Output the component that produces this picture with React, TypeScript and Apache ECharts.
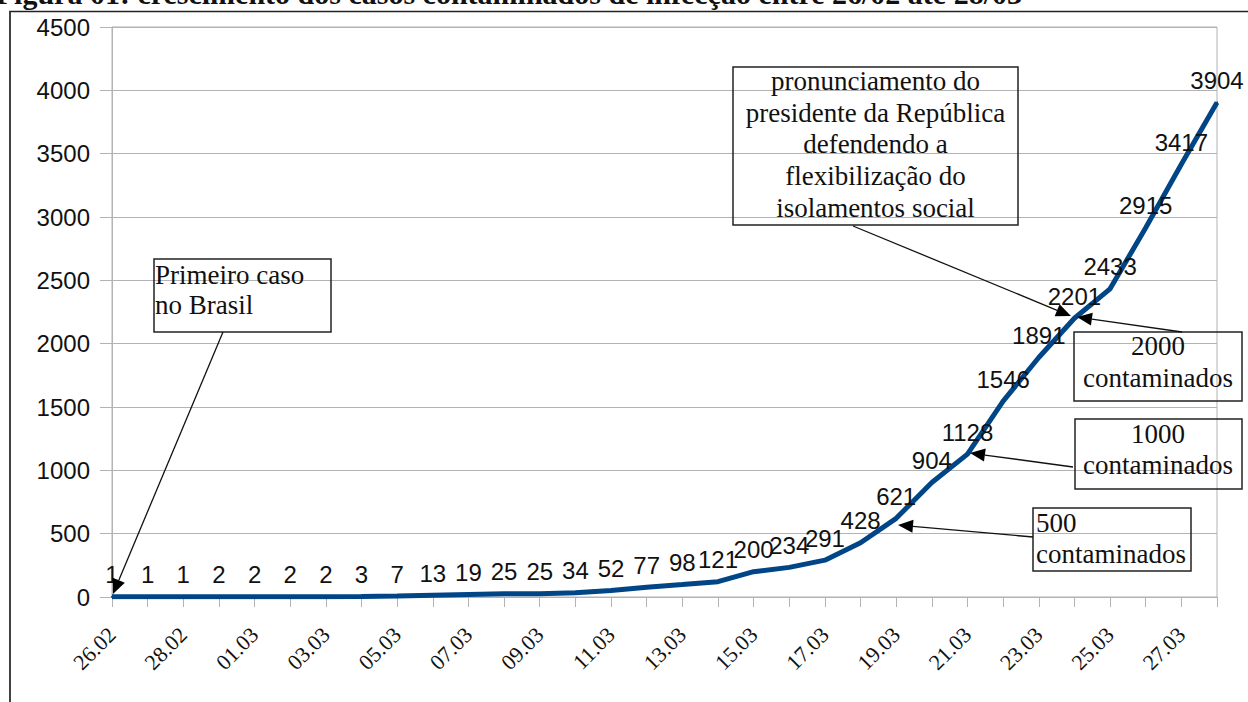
import { useEffect, useRef } from "react";
import * as echarts from "echarts";

const titleText =
  "Figura 01: crescimento dos casos contaminados de infecção entre 26/02 até 28/03";

const dates = [
  "26.02", "27.02", "28.02", "29.02",
  "01.03", "02.03", "03.03", "04.03", "05.03", "06.03", "07.03", "08.03",
  "09.03", "10.03", "11.03", "12.03", "13.03", "14.03", "15.03", "16.03",
  "17.03", "18.03", "19.03", "20.03", "21.03", "22.03", "23.03", "24.03",
  "25.03", "26.03", "27.03", "28.03",
];

const cases = [
  1, 1, 1, 2, 2, 2, 2, 3, 7, 13, 19, 25, 25, 34, 52, 77, 98, 121, 200, 234,
  291, 428, 621, 904, 1128, 1546, 1891, 2201, 2433, 2915, 3417, 3904,
];

const yMin = 0;
const yMax = 4500;
const yStep = 500;

type Note = {
  lines: string[];
  box: [number, number, number, number];
  align: "left" | "center";
  textX: number;
  mids: number[];
  from: [number, number];
  to: [number, number];
};

const notes: Note[] = [
  {
    lines: ["Primeiro caso", "no Brasil"],
    box: [154, 259, 177, 73],
    align: "left",
    textX: 155,
    mids: [275, 305],
    from: [223, 332],
    to: [113, 594],
  },
  {
    lines: [
      "pronunciamento do",
      "presidente da República",
      "defendendo a",
      "flexibilização do",
      "isolamentos social",
    ],
    box: [733, 67, 285, 158],
    align: "center",
    textX: 875.5,
    mids: [81, 113, 144, 176, 208],
    from: [853, 226],
    to: [1071, 316],
  },
  {
    lines: ["2000", "contaminados"],
    box: [1074, 332, 168, 69],
    align: "center",
    textX: 1158,
    mids: [346, 378],
    from: [1182, 332],
    to: [1077, 317],
  },
  {
    lines: ["1000", "contaminados"],
    box: [1075, 419, 167, 70],
    align: "center",
    textX: 1158,
    mids: [434, 465],
    from: [1073, 467],
    to: [970, 453],
  },
  {
    lines: ["500", "contaminados"],
    box: [1033, 508, 158, 63],
    align: "left",
    textX: 1036,
    mids: [523, 554],
    from: [1033, 537],
    to: [898, 525],
  },
];

function arrow(from: [number, number], to: [number, number]) {
  const dx = to[0] - from[0];
  const dy = to[1] - from[1];
  const len = Math.sqrt(dx * dx + dy * dy);
  const ux = dx / len;
  const uy = dy / len;
  const hl = 15;
  const hw = 6.5;
  const bx = to[0] - ux * hl;
  const by = to[1] - uy * hl;
  return [
    {
      type: "line",
      z: 100,
      shape: { x1: from[0], y1: from[1], x2: bx, y2: by },
      style: { stroke: "#111", lineWidth: 1.3 },
    },
    {
      type: "polygon",
      z: 100,
      shape: {
        points: [
          [to[0], to[1]],
          [bx - uy * hw, by + ux * hw],
          [bx + uy * hw, by - ux * hw],
        ],
      },
      style: { fill: "#000", stroke: "none" },
    },
  ];
}

function buildGraphic() {
  const els: any[] = [];
  els.push({
    type: "rect",
    z: 100,
    shape: { x: 10, y: 11.5, width: 1300, height: 800 },
    style: { fill: "none", stroke: "#222", lineWidth: 1.7 },
  });
  els.push({
    type: "text",
    z: 100,
    x: 1022,
    y: -7,
    style: {
      text: titleText,
      font: "bold 30px 'Liberation Serif'",
      fontFamily: "Liberation Serif",
      fontWeight: "bold",
      fontSize: 30,
      fill: "#111",
      align: "right",
      textAlign: "right",
      verticalAlign: "middle",
      textVerticalAlign: "middle",
    },
  });
  notes.forEach((n) => {
    els.push({
      type: "rect",
      z: 100,
      shape: { x: n.box[0], y: n.box[1], width: n.box[2], height: n.box[3] },
      style: { fill: "none", stroke: "#222", lineWidth: 1.5 },
    });
    n.lines.forEach((line, i) => {
      els.push({
        type: "text",
        z: 100,
        x: n.textX,
        y: n.mids[i],
        style: {
          text: line,
          font: "27px 'Liberation Serif'",
          fontFamily: "Liberation Serif",
          fontSize: 27,
          fill: "#111",
          align: n.align,
          textAlign: n.align,
          verticalAlign: "middle",
          textVerticalAlign: "middle",
        },
      });
    });
    arrow(n.from, n.to).forEach((e) => els.push(e));
  });
  return els;
}

export default function App() {
  const ref = useRef<HTMLDivElement>(null);
  useEffect(() => {
    if (!ref.current) return;
    const chart = echarts.init(ref.current, null, {
      renderer: "svg",
      width: 1248,
      height: 702,
    });
    chart.setOption({
      animation: false,
      backgroundColor: "#ffffff",
      grid: {
        left: 112,
        right: 31,
        top: 27,
        bottom: 105,
        show: true,
        borderColor: "#b3b3b3",
        borderWidth: 1,
        backgroundColor: "transparent",
      },
      xAxis: {
        type: "category",
        data: dates,
        boundaryGap: false,
        axisLine: { show: true, lineStyle: { color: "#b3b3b3", width: 1 } },
        axisTick: {
          show: true,
          interval: 0,
          length: 10,
          lineStyle: { color: "#b3b3b3" },
        },
        axisLabel: {
          interval: 1,
          rotate: 45,
          margin: 34,
          fontFamily: "Liberation Serif",
          fontSize: 22,
          color: "#111",
        },
        splitLine: { show: false },
      },
      yAxis: {
        type: "value",
        min: yMin,
        max: yMax,
        interval: yStep,
        axisLine: { show: true, lineStyle: { color: "#b3b3b3", width: 1 } },
        axisTick: { show: true, length: 12, lineStyle: { color: "#b3b3b3" } },
        axisLabel: {
          margin: 22,
          fontFamily: "Liberation Sans",
          fontSize: 24,
          color: "#111",
          formatter: (v: number) => String(v),
        },
        splitLine: { show: true, lineStyle: { color: "#b3b3b3", width: 1 } },
      },
      series: [
        {
          type: "line",
          data: cases,
          symbol: "circle",
          symbolSize: 2,
          itemStyle: { color: "#004586" },
          lineStyle: { color: "#004586", width: 5 },
          label: {
            show: true,
            position: "top",
            distance: 9,
            fontFamily: "Liberation Sans",
            fontSize: 24,
            color: "#111",
          },
          z: 2,
        },
      ],
      graphic: buildGraphic(),
    });
    return () => chart.dispose();
  }, []);
  return (
    <div
      ref={ref}
      style={{
        position: "fixed",
        left: 0,
        top: 0,
        width: 1248,
        height: 702,
        background: "#fff",
      }}
    />
  );
}
